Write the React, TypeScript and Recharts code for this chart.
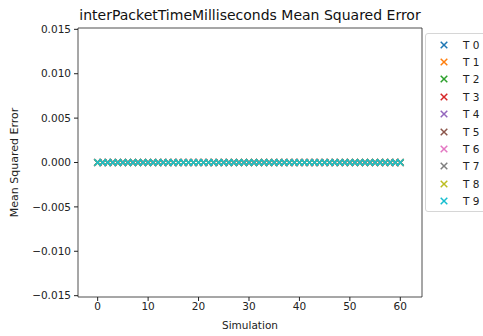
import React from 'react';
import { ScatterChart, Scatter, XAxis, YAxis, ReferenceArea, Label } from 'recharts';

const seriesNames = ['T 0', 'T 1', 'T 2', 'T 3', 'T 4', 'T 5', 'T 6', 'T 7', 'T 8', 'T 9'];
const seriesColors = ['#1f77b4', '#ff7f0e', '#2ca02c', '#d62728', '#9467bd', '#8c564b', '#e377c2', '#7f7f7f', '#bcbd22', '#17becf'];

const simulations = [
  0, 1, 2, 3, 4, 5, 6, 7, 8, 9, 10, 11, 12, 13, 14, 15, 16, 17, 18, 19, 20,
  21, 22, 23, 24, 25, 26, 27, 28, 29, 30, 31, 32, 33, 34, 35, 36, 37, 38, 39, 40,
  41, 42, 43, 44, 45, 46, 47, 48, 49, 50, 51, 52, 53, 54, 55, 56, 57, 58, 59, 60,
];

// every thread's error reads as 0 at this scale
const mseValues = [
  0, 0, 0, 0, 0, 0, 0, 0, 0, 0, 0, 0, 0, 0, 0, 0, 0, 0, 0, 0, 0,
  0, 0, 0, 0, 0, 0, 0, 0, 0, 0, 0, 0, 0, 0, 0, 0, 0, 0, 0, 0,
  0, 0, 0, 0, 0, 0, 0, 0, 0, 0, 0, 0, 0, 0, 0, 0, 0, 0, 0, 0,
];

const xTicks = [0, 10, 20, 30, 40, 50, 60];
const yTicks = [-0.015, -0.01, -0.005, 0, 0.005, 0.01, 0.015];

const X_DOMAIN: [number, number] = [-3.9, 64.3];
const Y_DOMAIN: [number, number] = [-0.01515, 0.01515];
const FONT = 'DejaVu Sans, sans-serif';

const seriesData = seriesNames.map(() =>
  simulations.map((s, i) => ({ sim: s, mse: mseValues[i] }))
);

const XMark = ({ cx, cy, color, r = 3.3 }: { cx: number; cy: number; color: string; r?: number }) => (
  <g>
    <line x1={cx - r} y1={cy - r} x2={cx + r} y2={cy + r} stroke={color} strokeWidth={1.5} />
    <line x1={cx - r} y1={cy + r} x2={cx + r} y2={cy - r} stroke={color} strokeWidth={1.5} />
  </g>
);

const fmtY = (v: number) => (v < 0 ? '\u2212' + Math.abs(v).toFixed(3) : v.toFixed(3));

const LegendBox = () => (
  <div
    style={{
      position: 'absolute',
      left: 425,
      top: 33,
      width: 70,
      border: '1px solid #d6d6d6',
      borderRadius: 3,
      background: 'rgba(255,255,255,0.8)',
      padding: '2px 0 1px 0',
      fontFamily: FONT,
      fontSize: 10.5,
      color: '#222',
    }}
  >
    {seriesNames.map((name, i) => (
      <div key={name} style={{ display: 'flex', alignItems: 'center', height: 17.4 }}>
        <svg width={26} height={12} style={{ flex: 'none' }}>
          <XMark cx={18} cy={6} color={seriesColors[i]} />
        </svg>
        <span style={{ marginLeft: 11 }}>{name}</span>
      </div>
    ))}
  </div>
);

export default function App() {
  return (
    <div style={{ position: 'absolute', left: 0, top: 0, width: 483, height: 336, background: '#fff', overflow: 'hidden' }}>
      <div
        style={{
          position: 'absolute',
          left: 50,
          width: 400,
          top: 7,
          textAlign: 'center',
          fontFamily: FONT,
          fontSize: 14,
          color: '#111',
        }}
      >
        interPacketTimeMilliseconds Mean Squared Error
      </div>
      <ScatterChart width={483} height={336} margin={{ top: 28, right: 61, bottom: 9, left: 18 }}>
        <XAxis
          type="number"
          dataKey="sim"
          domain={X_DOMAIN}
          ticks={xTicks}
          allowDataOverflow
          height={30}
          tickSize={4}
          tickMargin={2}
          axisLine={false}
          tickLine={{ stroke: '#222' }}
          tick={{ fontFamily: FONT, fontSize: 10.5, fill: '#222' }}
        >
          <Label value="Simulation" position="insideBottom" offset={-2} style={{ fontFamily: FONT, fontSize: 10.5, fill: '#222' }} />
        </XAxis>
        <YAxis
          type="number"
          dataKey="mse"
          domain={Y_DOMAIN}
          ticks={yTicks}
          allowDataOverflow
          width={60}
          tickSize={4}
          tickMargin={3}
          axisLine={false}
          tickLine={{ stroke: '#222' }}
          tickFormatter={fmtY}
          tick={{ fontFamily: FONT, fontSize: 10.5, fill: '#222' }}
        >
          <Label
            value="Mean Squared Error"
            angle={-90}
            position="insideLeft"
            offset={-4}
            style={{ fontFamily: FONT, fontSize: 11, fill: '#222', textAnchor: 'middle' }}
          />
        </YAxis>
        <ReferenceArea
          x1={X_DOMAIN[0]}
          x2={X_DOMAIN[1]}
          y1={Y_DOMAIN[0]}
          y2={Y_DOMAIN[1]}
          fill="none"
          stroke="#222"
          strokeWidth={0.8}
        />
        {seriesNames.map((name, i) => (
          <Scatter
            key={name}
            name={name}
            data={seriesData[i]}
            isAnimationActive={false}
            shape={(p: any) => <XMark cx={p.cx} cy={p.cy} color={seriesColors[i]} />}
          />
        ))}
      </ScatterChart>
      <LegendBox />
    </div>
  );
}
